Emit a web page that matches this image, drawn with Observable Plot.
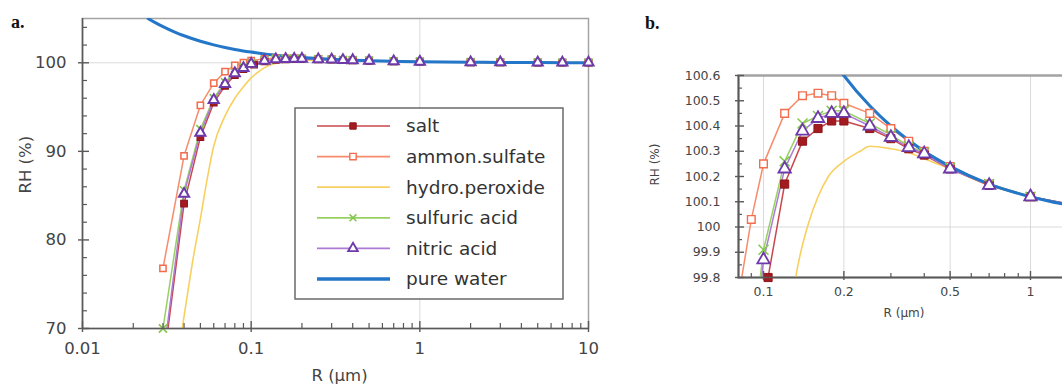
<!DOCTYPE html>
<html><head><meta charset="utf-8">
<script src="https://cdn.jsdelivr.net/npm/d3@7"></script>
<script src="https://cdn.jsdelivr.net/npm/@observablehq/plot@0.6"></script>
<style>
body{margin:0;background:#fff;}
#wrap{position:relative;width:1062px;height:385px;overflow:hidden;background:#fff;}
.panel{position:absolute;top:0;}
#overlay{position:absolute;left:0;top:0;pointer-events:none;}
</style></head><body><div id="wrap"></div>
<script>
// ---------- data ----------
const radii      = [0.03,0.04,0.05,0.06,0.07,0.08,0.09,0.1,0.12,0.14,0.16,0.18,0.2,0.25,0.3,0.35,0.4,0.5,0.7,1,2,3,5,7,10];
const saltRadii  = [0.03,0.04,0.05,0.06,0.07,0.08,0.09,0.104,0.12,0.14,0.16,0.18,0.2,0.25,0.3,0.35,0.4,0.5,0.7,1,2,3,5,7,10];
const saltRH     = [65.6,84.1,91.6,95.5,97.4,98.6,99.3,99.8,100.17,100.34,100.39,100.42,100.42,100.39,100.35,100.31,100.285,100.23,100.165,100.12,100.06,100.04,100.024,100.017,100.012];
const ammonRH    = [76.8,89.5,95.2,97.7,99.0,99.7,100.03,100.25,100.45,100.52,100.53,100.52,100.49,100.45,100.39,100.34,100.30,100.24,100.17,100.12,100.06,100.04,100.024,100.017,100.012];
const sulfuricRH = [70.0,85.6,92.5,96.0,97.8,98.9,99.5,99.91,100.26,100.41,100.44,100.46,100.46,100.41,100.365,100.32,100.295,100.235,100.17,100.12,100.06,100.04,100.024,100.017,100.012];
const nitricRH   = [66.4,85.2,92.1,95.8,97.6,98.8,99.4,99.87,100.23,100.38,100.43,100.45,100.45,100.40,100.355,100.315,100.29,100.23,100.165,100.12,100.06,100.04,100.024,100.017,100.012];
const hydroRadii = [0.039,0.042,0.045,0.05,0.055,0.06,0.07,0.08,0.09,0.1,0.11,0.12,0.132,0.146,0.16,0.175,0.2,0.23,0.25,0.3,0.35,0.4,0.5,0.7,1,2,3,5,10];
const hydroRH    = [70,74.0,77.6,82.4,87.0,90.6,94.0,96.0,97.3,98.3,98.95,99.45,99.8,100.0,100.12,100.2,100.26,100.30,100.32,100.31,100.295,100.27,100.23,100.165,100.12,100.06,100.04,100.024,100.012];
const waterRadii = [0.0245,0.027,0.03,0.035,0.04,0.05,0.06,0.07,0.08,0.1,0.12,0.15,0.2,0.25,0.3,0.4,0.5,0.7,1,1.4,2,3,5,10];
const waterRH    = [105.0,104.54,104.08,103.49,103.05,102.43,102.02,101.73,101.51,101.21,101.0,100.80,100.60,100.48,100.40,100.30,100.24,100.17,100.12,100.086,100.06,100.04,100.024,100.012];

const seriesNames = ["salt","ammon.sulfate","hydro.peroxide","sulfuric acid","nitric acid","pure water"];

const xTicksA = [0.01,0.1,1,10];
const xMinorA = [0.02,0.03,0.04,0.05,0.06,0.07,0.08,0.09,0.2,0.3,0.4,0.5,0.6,0.7,0.8,0.9,2,3,4,5,6,7,8,9];
const yTicksA = [70,80,90,100];
const yMinorA = [72,74,76,78,82,84,86,88,92,94,96,98,102,104];
const xTicksB = [0.1,0.2,0.5,1];
const xMinorB = [0.09,0.3,0.4,0.6,0.7,0.8,0.9];
const yTicksB = [99.8,99.9,100,100.1,100.2,100.3,100.4,100.5,100.6];
const yMinorB = [99.85,99.95,100.05,100.15,100.25,100.35,100.45,100.55];

// ---------- build tables ----------
const rows = (rs, vs) => rs.map((r, i) => ({R: r, RH: vs[i]}));
const data = {
  "salt": rows(saltRadii, saltRH),
  "ammon.sulfate": rows(radii, ammonRH),
  "hydro.peroxide": rows(hydroRadii, hydroRH),
  "sulfuric acid": rows(radii, sulfuricRH),
  "nitric acid": rows(radii, nitricRH),
  "pure water": rows(waterRadii, waterRH)
};

// ---------- styles ----------
const sty = {
  "salt":          {line: "#c8474c", w: 1.5, mark: {symbol: "square", fill: "#a31b20", stroke: "#8e1519", strokeWidth: 1, r: 4.6}},
  "ammon.sulfate": {line: "#f78b6c", w: 1.5, mark: {symbol: "square", fill: "#fff", stroke: "#f26d4d", strokeWidth: 1.4, r: 4.3}},
  "hydro.peroxide":{line: "#f8d060", w: 1.6, mark: null, curve: "monotone-x"},
  "sulfuric acid": {line: "#98d064", w: 1.5, mark: {symbol: "times", fill: "none", stroke: "#84c64c", strokeWidth: 1.5, r: 4.6}},
  "nitric acid":   {line: "#ad7bd6", w: 1.5, mark: {symbol: "triangle", fill: "#fff", stroke: "#6e3aab", strokeWidth: 1.8, r: 4.6}},
  "pure water":    {line: "#2376c8", w: 3, mark: null, curve: "monotone-x"}
};
const lineOrder = ["ammon.sulfate","hydro.peroxide","sulfuric acid","salt","nitric acid","pure water"];
const dotOrder = ["ammon.sulfate","salt","sulfuric acid","nitric acid"];

function makePanel(o) {
  const plotW = o.width - o.ml - o.mr, plotH = o.height - o.mt - o.mb;
  const inDom = d => d.R >= o.xd[0] * 0.999 && d.R <= o.xd[1] * 1.001 && d.RH >= o.yd[0] - 1e-9 && d.RH <= o.yd[1] + 1e-9;
  const marks = [
    Plot.ruleX(o.gridX, {stroke: "#dadada", strokeWidth: 1}),
    Plot.ruleY(o.gridY, {stroke: "#dadada", strokeWidth: 1}),
    Plot.frame({stroke: "#a3a3a3", strokeWidth: o.frameW})
  ];
  for (const n of lineOrder) {
    marks.push(Plot.line(data[n], {x: "R", y: "RH", stroke: sty[n].line, strokeWidth: sty[n].w, curve: sty[n].curve || "linear", clip: true}));
  }
  for (const n of dotOrder) {
    const m = sty[n].mark;
    marks.push(Plot.dot(data[n].filter(inDom), {x: "R", y: "RH", symbol: m.symbol, fill: m.fill, stroke: m.stroke, strokeWidth: m.strokeWidth * o.markStroke, r: m.r * o.markScale}));
  }
  marks.push(
    Plot.ruleX([o.xd[0]], {stroke: "#595959", strokeWidth: 1.6}),
    Plot.ruleY([o.yd[0]], {stroke: "#595959", strokeWidth: 1.6}),
    Plot.tickX(o.xMinor, {stroke: "#595959", strokeWidth: 1.2, insetTop: plotH - o.minor}),
    Plot.tickX(o.xTicks, {stroke: "#595959", strokeWidth: 1.4, insetTop: plotH - o.major, insetBottom: -o.out}),
    Plot.tickY(o.yMinor, {stroke: "#595959", strokeWidth: 1.2, insetRight: plotW - o.minor}),
    Plot.tickY(o.yTicks, {stroke: "#595959", strokeWidth: 1.4, insetRight: plotW - o.major, insetLeft: -o.out}),
    Plot.axisX({ticks: o.xTicks, tickFormat: o.xFmt, tickSize: 0, tickPadding: o.xPad, fontSize: o.tickFont, fill: "#444", label: null}),
    Plot.axisY({ticks: o.yTicks, tickFormat: o.yFmt, tickSize: 0, tickPadding: o.yPad, fontSize: o.tickFont, fill: "#444", label: null}),
    Plot.text(["R (μm)"], {text: d => d, frameAnchor: "bottom", dx: o.xlabDx, dy: o.xlabDy, lineAnchor: "middle", fontSize: o.labFont, fill: "#444"}),
    Plot.text(["RH (%)"], {text: d => d, frameAnchor: "left", rotate: -90, dx: o.ylabDx, dy: o.ylabDy, lineAnchor: "middle", fontSize: o.labFont, fill: "#444"})
  );
  return Plot.plot({
    width: o.width, height: o.height,
    marginLeft: o.ml, marginRight: o.mr, marginTop: o.mt, marginBottom: o.mb,
    x: {type: "log", domain: o.xd},
    y: {domain: o.yd},
    style: {fontFamily: "'DejaVu Sans', sans-serif", background: "transparent", overflow: "visible"},
    marks
  });
}

const wrap = document.getElementById("wrap");

const A = makePanel({
  width: 600, height: 385, ml: 82, mr: 12, mt: 18, mb: 57,
  xd: [0.01, 10], yd: [70, 105],
  gridX: [0.1, 1], gridY: [100], frameW: 1.5,
  xTicks: xTicksA, xMinor: xMinorA, yTicks: yTicksA, yMinor: yMinorA,
  xFmt: d => String(d), yFmt: d => String(d),
  minor: 5, major: 7, out: 4, xPad: 14, yPad: 16, tickFont: 16.5, labFont: 16.5,
  xlabDx: 4, xlabDy: 47, ylabDx: -57, ylabDy: 20, markScale: 0.82, markStroke: 1.1
});
A.classList.add("panel"); A.style.left = "0px";
wrap.appendChild(A);

const B = makePanel({
  width: 440, height: 385, ml: 98, mr: 11, mt: 75, mb: 108,
  xd: [0.0806, 1.4], yd: [99.8, 100.6],
  gridX: [0.1, 0.2, 0.5, 1], gridY: [100], frameW: 2.5,
  xTicks: xTicksB, xMinor: xMinorB, yTicks: yTicksB, yMinor: yMinorB,
  xFmt: d => String(d), yFmt: d => (d === 100 ? "100" : d.toFixed(1)),
  minor: 4, major: 6, out: 3, xPad: 10, yPad: 18, tickFont: 12.5, labFont: 12,
  xlabDx: 0, xlabDy: 36, ylabDx: -83, ylabDy: 9, markScale: 1.0, markStroke: 1
});
B.classList.add("panel"); B.style.left = "640px";
wrap.appendChild(B);

// ---------- overlay: panel tags and legend ----------
const ov = d3.select(wrap).append("svg").attr("id", "overlay").attr("width", 1062).attr("height", 385);
ov.append("text").attr("x", 11).attr("y", 28).text("a.")
  .attr("font-family", "'Liberation Serif', serif").attr("font-weight", "bold").attr("font-size", 18).attr("fill", "#111");
ov.append("text").attr("x", 645).attr("y", 29).text("b.")
  .attr("font-family", "'Liberation Serif', serif").attr("font-weight", "bold").attr("font-size", 18).attr("fill", "#111");

const lg = ov.append("g").attr("transform", "translate(295,108)");
lg.append("rect").attr("width", 268).attr("height", 191).attr("fill", "#fff").attr("stroke", "#6a6a6a").attr("stroke-width", 1.5);
seriesNames.forEach((n, i) => {
  const y = 18 + i * 30.6;
  const g = lg.append("g").attr("transform", `translate(0,${y})`);
  g.append("line").attr("x1", 22).attr("x2", 95).attr("stroke", sty[n].line).attr("stroke-width", sty[n].w * 1.1);
  const m = sty[n].mark;
  if (m) {
    const sym = {square: d3.symbolSquare, triangle: d3.symbolTriangle, times: d3.symbolTimes}[m.symbol];
    const s = m.symbol === "times" ? 3.2 : 3.6;
    g.append("path").attr("transform", "translate(58,0)")
      .attr("d", d3.symbol(sym, Math.PI * s * s)())
      .attr("fill", m.fill).attr("stroke", m.stroke).attr("stroke-width", m.strokeWidth);
  }
  g.append("text").attr("x", 111).attr("y", 0).attr("dy", "0.35em").text(n)
    .attr("font-family", "'DejaVu Sans', sans-serif").attr("font-size", 18.5).attr("fill", "#333");
});
</script></body></html>
